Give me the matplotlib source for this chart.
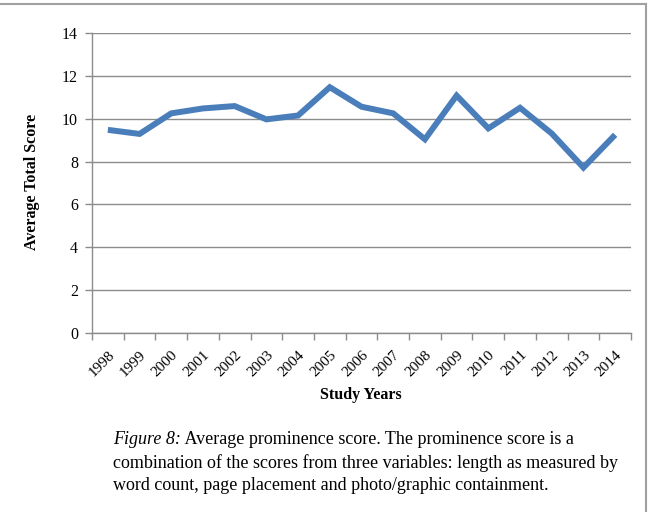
import numpy as np
import matplotlib.pyplot as plt
from matplotlib.lines import Line2D

years = ['1998', '1999', '2000', '2001', '2002', '2003', '2004', '2005', '2006',
         '2007', '2008', '2009', '2010', '2011', '2012', '2013', '2014']
scores = [9.48, 9.29, 10.25, 10.48, 10.59, 9.97, 10.15, 11.47, 10.56,
          10.25, 9.04, 11.08, 9.55, 10.51, 9.31, 7.72, 9.25]
y_ticks = [0, 2, 4, 6, 8, 10, 12, 14]

caption = ['Average prominence score. The prominence score is a',
           'combination of the scores from three variables: length as measured by',
           'word count, page placement and photo/graphic containment.']

if __name__ == '__main__':
    fig = plt.figure(figsize=(6.51, 5.12), dpi=100)
    ax = fig.add_axes([92 / 651, 1 - 333 / 512, 539 / 651, 300 / 512])

    x = np.arange(len(years))
    ax.plot(x, scores, color='#4A7EBB', linewidth=4.3, solid_joinstyle='miter',
            solid_capstyle='butt', zorder=3)

    grey = '#8C8C8C'
    ax.set_xlim(-0.5, len(years) - 0.5)
    ax.set_ylim(0, 14)
    ax.set_yticks(y_ticks)
    ax.yaxis.grid(True, color=grey, linewidth=1)
    ax.set_axisbelow(True)
    for s in ['top', 'right']:
        ax.spines[s].set_visible(False)
    for s in ['left', 'bottom']:
        ax.spines[s].set_color(grey)
        ax.spines[s].set_linewidth(1)

    ax.set_xticks(x)
    ax.set_xticklabels(years, rotation=45, ha='right', rotation_mode='anchor',
                       family='Liberation Serif', fontsize=11)
    ax.set_xticks(np.arange(len(years) + 1) - 0.5, minor=True)
    ax.tick_params(axis='x', which='major', length=0, pad=11)
    ax.tick_params(axis='x', which='minor', length=5, color=grey, width=1)
    ax.tick_params(axis='y', length=5, color=grey, width=1, pad=5)
    for lab in ax.get_yticklabels():
        lab.set_family('Liberation Serif')
        lab.set_fontsize(11.5)

    fig.text(32 / 651, 1 - 182 / 512, 'Average Total Score', rotation=90,
             ha='center', va='center', family='Liberation Serif',
             fontweight='bold', fontsize=11.5)
    fig.text(361 / 651, 1 - 395 / 512, 'Study Years', ha='center', va='center',
             family='Liberation Serif', fontweight='bold', fontsize=11.5)

    # caption
    t0 = fig.text(113 / 651, 1 - 440 / 512, 'Figure 8:', style='italic',
                  family='Liberation Serif', fontsize=13, va='center')
    ax.annotate(' ' + caption[0], xy=(1, 0), xycoords=t0, ha='left', va='bottom',
                family='Liberation Serif', fontsize=13, annotation_clip=False)
    fig.text(113 / 651, 1 - 463 / 512, caption[1], family='Liberation Serif',
             fontsize=13, va='center')
    fig.text(113 / 651, 1 - 486 / 512, caption[2], family='Liberation Serif',
             fontsize=13, va='center')

    # frame
    fig.add_artist(Line2D([0, 646 / 651], [1 - 4 / 512, 1 - 4 / 512],
                          color='#A0A0A0', linewidth=1.5))
    fig.add_artist(Line2D([646 / 651, 646 / 651], [0, 1 - 4 / 512],
                          color='#A0A0A0', linewidth=1.5))

    plt.savefig('out.png', dpi=100)
